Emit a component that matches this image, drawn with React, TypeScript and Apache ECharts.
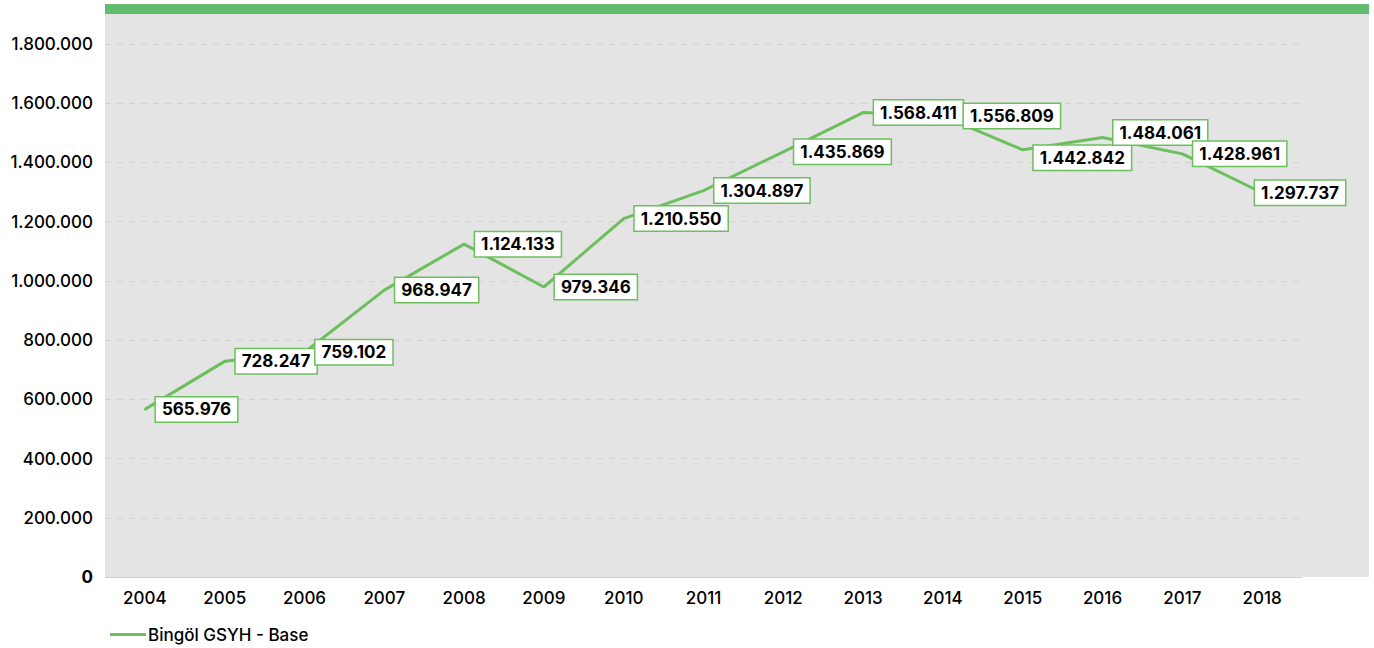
import React, { useEffect, useRef } from "react";
import * as echarts from "echarts";

const years = ["2004","2005","2006","2007","2008","2009","2010","2011","2012","2013","2014","2015","2016","2017","2018"];
const gsyh = [565976, 728247, 759102, 968947, 1124133, 979346, 1210550, 1304897, 1435869, 1568411, 1556809, 1442842, 1484061, 1428961, 1297737];
const seriesName = "Bingöl GSYH - Base";

const fmt = (v: number) => String(Math.round(v)).replace(/\B(?=(\d{3})+(?!\d))/g, ".");

const FONT = "Inter, 'Noto Sans', sans-serif";
const GREEN = "#6dbf5e";

// manual label nudges (as in the original, where some labels were moved to avoid overlap)
const labelNudge: Record<number, [number, number]> = {
  10: [10, 0],
  11: [0, 8],
  12: [0, -5],
  14: [-18, 0],
};

export default function App() {
  const ref = useRef<HTMLDivElement>(null);
  useEffect(() => {
    const chart = echarts.init(ref.current!, null, { renderer: "svg" });
    chart.setOption({
      animation: false,
      textStyle: { fontFamily: FONT },
      graphic: [
        { type: "rect", z: -10, shape: { x: 105, y: 14, width: 1264, height: 563 }, style: { fill: "#e4e4e4" } },
        { type: "rect", z: -10, shape: { x: 105, y: 4, width: 1264, height: 10 }, style: { fill: "#62bb6e" } },
      ],
      grid: { left: 105, right: 72, top: 44, bottom: 71, containLabel: false },
      legend: {
        left: 105, top: 621, itemWidth: 36, itemHeight: 14, itemGap: 10,
        icon: "path://M0,6 L36,6 L36,9 L0,9 Z",
        textStyle: { fontSize: 17, fontWeight: 500, color: "#000", fontFamily: FONT, padding: [0, 0, 0, -3] },
        data: [seriesName],
      },
      xAxis: {
        type: "category", data: years, boundaryGap: true,
        axisLine: { lineStyle: { color: "#d0d0d0", width: 1 } },
        axisTick: { show: false },
        axisLabel: { fontSize: 17, fontWeight: 500, color: "#000", margin: 12, fontFamily: FONT },
      },
      yAxis: {
        type: "value", min: 0, max: 1800000, interval: 200000,
        axisLine: { show: false }, axisTick: { show: false },
        axisLabel: {
          fontSize: 17, fontWeight: 500, color: "#000", margin: 12, fontFamily: FONT,
          formatter: (v: number) => (v === 0 ? "{z|0}" : fmt(v)),
          rich: { z: { fontSize: 17, fontWeight: "bold", color: "#000", fontFamily: FONT } },
        },
        splitLine: { lineStyle: { color: "#d2d2d2", type: [6, 6], width: 1 } },
      },
      series: [{
        name: seriesName, type: "line", data: gsyh,
        symbol: "circle", symbolSize: 2, showSymbol: true, showAllSymbol: true,
        lineStyle: { color: GREEN, width: 3 }, itemStyle: { color: GREEN },
        labelLayout: (p: any) => {
          const n = labelNudge[p.dataIndex] || [0, 0];
          return { hideOverlap: false, dx: n[0], dy: n[1] };
        },
        label: {
          show: true, position: "right", distance: 10,
          formatter: (p: any) => fmt(p.value),
          fontSize: 17, fontWeight: "bold", color: "#000", fontFamily: FONT,
          backgroundColor: "#fff", borderColor: GREEN, borderWidth: 1.5,
          padding: [4, 6, 3, 6],
        },
      }],
    });
    return () => chart.dispose();
  }, []);
  return <div ref={ref} style={{ width: 1374, height: 648, position: "absolute", left: 0, top: 0 }} />;
}
